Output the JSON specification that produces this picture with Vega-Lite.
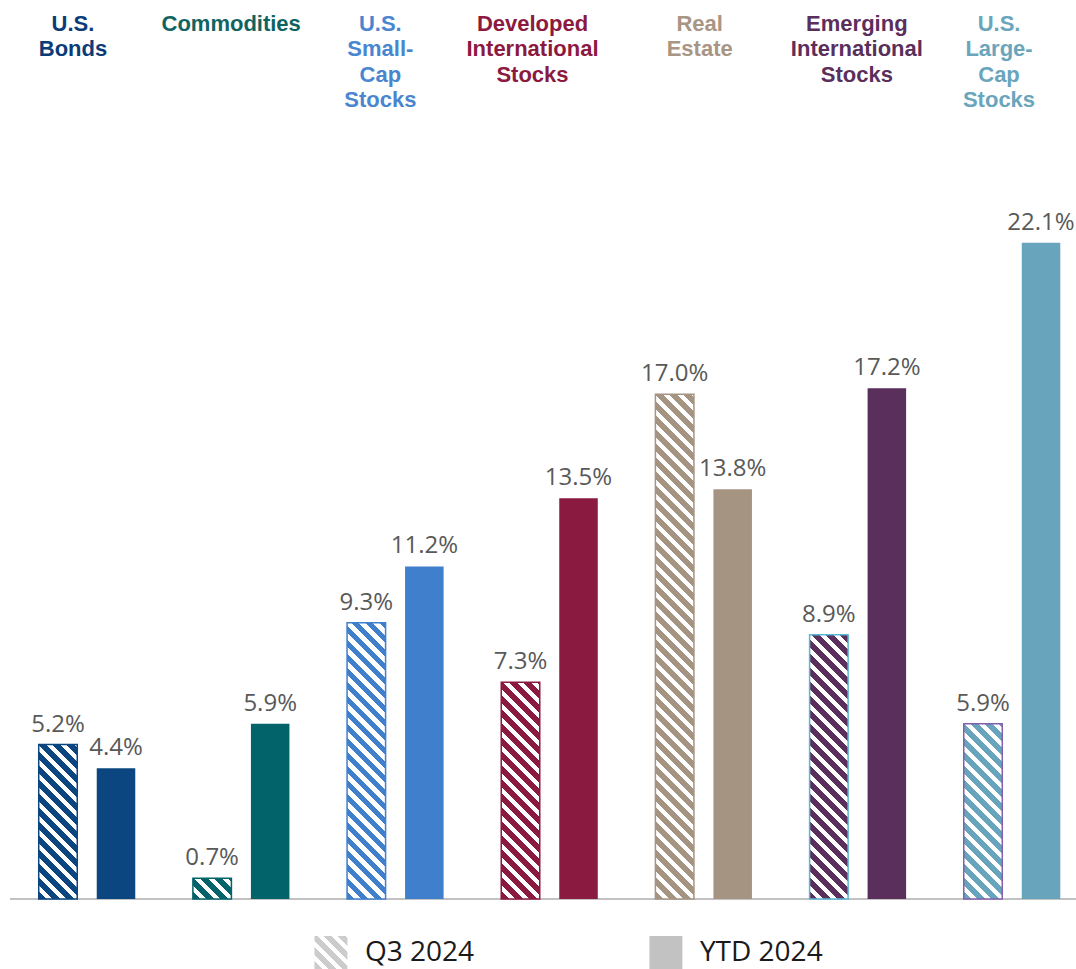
{
"$schema":"https://vega.github.io/schema/vega-lite/v6.json",
"padding":{"left":9,"top":12,"right":0,"bottom":0},
"background":"white",
"spacing":36,
"config":{"view":{"stroke":null},"font":"Open Sans"},
"vconcat":[
{"width":1067,"height":772,
"data":{"values":[
{"category":"U.S. Bonds","period":"Q3 2024","value":0.052},
{"category":"U.S. Bonds","period":"YTD 2024","value":0.044},
{"category":"Commodities","period":"Q3 2024","value":0.007},
{"category":"Commodities","period":"YTD 2024","value":0.059},
{"category":"U.S. Small-Cap Stocks","period":"Q3 2024","value":0.093},
{"category":"U.S. Small-Cap Stocks","period":"YTD 2024","value":0.112},
{"category":"Developed International Stocks","period":"Q3 2024","value":0.073},
{"category":"Developed International Stocks","period":"YTD 2024","value":0.135},
{"category":"Real Estate","period":"Q3 2024","value":0.170},
{"category":"Real Estate","period":"YTD 2024","value":0.138},
{"category":"Emerging International Stocks","period":"Q3 2024","value":0.089},
{"category":"Emerging International Stocks","period":"YTD 2024","value":0.172},
{"category":"U.S. Large-Cap Stocks","period":"Q3 2024","value":0.059},
{"category":"U.S. Large-Cap Stocks","period":"YTD 2024","value":0.221}
]},
"layer":[
{"mark":{"type":"rule","color":"#c2c2c2","strokeWidth":1.5},"encoding":{"y":{"datum":0,"type":"quantitative","scale":{"domain":[0,0.26],"nice":false},"axis":null}}},
{"transform":[{"filter":"datum.period === 'YTD 2024'"}],"mark":{"type":"bar"},
"encoding":{
"x":{"field":"category","type":"nominal","sort":["U.S. Bonds","Commodities","U.S. Small-Cap Stocks","Developed International Stocks","Real Estate","Emerging International Stocks","U.S. Large-Cap Stocks"],"scale":{"paddingInner":0.2,"paddingOuter":0.06045,"align":0.8224},
"axis":{"orient":"top","title":null,"domain":false,"ticks":false,"tickSize":0,"grid":false,"labelPadding":97,"labelBaseline":"alphabetic","labelAngle":0,"labelAlign":"center","labelFont":"Liberation Sans","labelFontSize":22,"labelFontWeight":"bold","labelLineHeight":25.5,"labelLimit":400,"labelOverlap":false,
"labelOffset":{"condition":[
{"test":"datum.value === 'U.S. Bonds'","value":-14},
{"test":"datum.value === 'Commodities'","value":-10},
{"test":"datum.value === 'U.S. Small-Cap Stocks'","value":-15},
{"test":"datum.value === 'Developed International Stocks'","value":-17},
{"test":"datum.value === 'Real Estate'","value":-4},
{"test":"datum.value === 'Emerging International Stocks'","value":-1}],"value":-13},
"labelColor":{"condition":[
{"test":"datum.value === 'U.S. Bonds'","value":"#0c3c78"},
{"test":"datum.value === 'Commodities'","value":"#0f6462"},
{"test":"datum.value === 'U.S. Small-Cap Stocks'","value":"#4a86d0"},
{"test":"datum.value === 'Developed International Stocks'","value":"#8c1a40"},
{"test":"datum.value === 'Real Estate'","value":"#a89584"},
{"test":"datum.value === 'Emerging International Stocks'","value":"#5a2f5c"}],"value":"#6aa5bc"},
"labelExpr":"datum.label === 'U.S. Bonds' ? ['U.S.','Bonds'] : datum.label === 'Commodities' ? 'Commodities' : datum.label === 'U.S. Small-Cap Stocks' ? ['U.S.','Small-','Cap','Stocks'] : datum.label === 'Developed International Stocks' ? ['Developed','International','Stocks'] : datum.label === 'Real Estate' ? ['Real','Estate'] : datum.label === 'Emerging International Stocks' ? ['Emerging','International','Stocks'] : ['U.S.','Large-','Cap','Stocks']"}},
"xOffset":{"field":"period","type":"nominal","scale":{"domain":["Q3 2024","YTD 2024"],"paddingInner":0.336,"paddingOuter":0.231}},
"y":{"field":"value","type":"quantitative","scale":{"domain":[0,0.26],"nice":false},"axis":null},
"color":{"field":"category","type":"nominal","scale":{"domain":["U.S. Bonds","Commodities","U.S. Small-Cap Stocks","Developed International Stocks","Real Estate","Emerging International Stocks","U.S. Large-Cap Stocks"],"range":["#0b4680","#02636a","#3f7fcc","#8a1a40","#a69483","#5a2f5c","#68a4bb"]},"legend":null}}},
{"transform":[{"filter":"datum.period === 'Q3 2024' && datum.category === 'U.S. Bonds'"}],
"mark":{"type":"bar","stroke":"#0b4680","strokeWidth":1.5,"fill":{"gradient":"linear","x1":0,"y1":1,"x2":0.8514,"y2":-2.4146,"stops":[
{"offset":0,"color":"#0b4680"},
{"offset":0.014,"color":"#0b4680"},{"offset":0.014,"color":"#fff"},{"offset":0.025,"color":"#fff"},{"offset":0.025,"color":"#0b4680"},
{"offset":0.039,"color":"#0b4680"},{"offset":0.039,"color":"#fff"},{"offset":0.05,"color":"#fff"},{"offset":0.05,"color":"#0b4680"},
{"offset":0.064,"color":"#0b4680"},{"offset":0.064,"color":"#fff"},{"offset":0.075,"color":"#fff"},{"offset":0.075,"color":"#0b4680"},
{"offset":0.089,"color":"#0b4680"},{"offset":0.089,"color":"#fff"},{"offset":0.1,"color":"#fff"},{"offset":0.1,"color":"#0b4680"},
{"offset":0.114,"color":"#0b4680"},{"offset":0.114,"color":"#fff"},{"offset":0.125,"color":"#fff"},{"offset":0.125,"color":"#0b4680"},
{"offset":0.139,"color":"#0b4680"},{"offset":0.139,"color":"#fff"},{"offset":0.15,"color":"#fff"},{"offset":0.15,"color":"#0b4680"},
{"offset":0.164,"color":"#0b4680"},{"offset":0.164,"color":"#fff"},{"offset":0.175,"color":"#fff"},{"offset":0.175,"color":"#0b4680"},
{"offset":0.189,"color":"#0b4680"},{"offset":0.189,"color":"#fff"},{"offset":0.2,"color":"#fff"},{"offset":0.2,"color":"#0b4680"},
{"offset":0.214,"color":"#0b4680"},{"offset":0.214,"color":"#fff"},{"offset":0.225,"color":"#fff"},{"offset":0.225,"color":"#0b4680"},
{"offset":0.239,"color":"#0b4680"},{"offset":0.239,"color":"#fff"},{"offset":0.25,"color":"#fff"},{"offset":0.25,"color":"#0b4680"},
{"offset":0.264,"color":"#0b4680"},{"offset":0.264,"color":"#fff"},{"offset":0.275,"color":"#fff"},{"offset":0.275,"color":"#0b4680"},
{"offset":0.289,"color":"#0b4680"},{"offset":0.289,"color":"#fff"},{"offset":0.3,"color":"#fff"},{"offset":0.3,"color":"#0b4680"},
{"offset":0.314,"color":"#0b4680"},{"offset":0.314,"color":"#fff"},{"offset":0.325,"color":"#fff"},{"offset":0.325,"color":"#0b4680"},
{"offset":0.339,"color":"#0b4680"},{"offset":0.339,"color":"#fff"},{"offset":0.35,"color":"#fff"},{"offset":0.35,"color":"#0b4680"}
]}},
"encoding":{"x":{"field":"category","type":"nominal","sort":["U.S. Bonds","Commodities","U.S. Small-Cap Stocks","Developed International Stocks","Real Estate","Emerging International Stocks","U.S. Large-Cap Stocks"],"scale":{"paddingInner":0.2,"paddingOuter":0.06045,"align":0.8224}},
"xOffset":{"field":"period","type":"nominal","scale":{"domain":["Q3 2024","YTD 2024"],"paddingInner":0.336,"paddingOuter":0.231}},
"y":{"field":"value","type":"quantitative","scale":{"domain":[0,0.26],"nice":false},"axis":null}}},
{"transform":[{"filter":"datum.period === 'Q3 2024' && datum.category === 'Commodities'"}],
"mark":{"type":"bar","stroke":"#02636a","strokeWidth":1.5,"fill":{"gradient":"linear","x1":0,"y1":1,"x2":11.264,"y2":-5.0797,"stops":[
{"offset":0,"color":"#02636a"},
{"offset":0.014,"color":"#02636a"},{"offset":0.014,"color":"#fff"},{"offset":0.025,"color":"#fff"},{"offset":0.025,"color":"#02636a"},
{"offset":0.039,"color":"#02636a"},{"offset":0.039,"color":"#fff"},{"offset":0.05,"color":"#fff"},{"offset":0.05,"color":"#02636a"},
{"offset":0.064,"color":"#02636a"},{"offset":0.064,"color":"#fff"},{"offset":0.075,"color":"#fff"},{"offset":0.075,"color":"#02636a"},
{"offset":0.089,"color":"#02636a"},{"offset":0.089,"color":"#fff"},{"offset":0.1,"color":"#fff"},{"offset":0.1,"color":"#02636a"},
{"offset":0.114,"color":"#02636a"},{"offset":0.114,"color":"#fff"}
]}},
"encoding":{"x":{"field":"category","type":"nominal","sort":["U.S. Bonds","Commodities","U.S. Small-Cap Stocks","Developed International Stocks","Real Estate","Emerging International Stocks","U.S. Large-Cap Stocks"],"scale":{"paddingInner":0.2,"paddingOuter":0.06045,"align":0.8224}},
"xOffset":{"field":"period","type":"nominal","scale":{"domain":["Q3 2024","YTD 2024"],"paddingInner":0.336,"paddingOuter":0.231}},
"y":{"field":"value","type":"quantitative","scale":{"domain":[0,0.26],"nice":false},"axis":null}}},
{"transform":[{"filter":"datum.period === 'Q3 2024' && datum.category === 'U.S. Small-Cap Stocks'"}],
"mark":{"type":"bar","stroke":"#3f7fcc","strokeWidth":1.5,"fill":{"gradient":"linear","x1":0,"y1":1,"x2":0.2774,"y2":-0.9893,"stops":[
{"offset":0,"color":"#3f7fcc"},
{"offset":0.014,"color":"#3f7fcc"},{"offset":0.014,"color":"#fff"},{"offset":0.025,"color":"#fff"},{"offset":0.025,"color":"#3f7fcc"},
{"offset":0.039,"color":"#3f7fcc"},{"offset":0.039,"color":"#fff"},{"offset":0.05,"color":"#fff"},{"offset":0.05,"color":"#3f7fcc"},
{"offset":0.064,"color":"#3f7fcc"},{"offset":0.064,"color":"#fff"},{"offset":0.075,"color":"#fff"},{"offset":0.075,"color":"#3f7fcc"},
{"offset":0.089,"color":"#3f7fcc"},{"offset":0.089,"color":"#fff"},{"offset":0.1,"color":"#fff"},{"offset":0.1,"color":"#3f7fcc"},
{"offset":0.114,"color":"#3f7fcc"},{"offset":0.114,"color":"#fff"},{"offset":0.125,"color":"#fff"},{"offset":0.125,"color":"#3f7fcc"},
{"offset":0.139,"color":"#3f7fcc"},{"offset":0.139,"color":"#fff"},{"offset":0.15,"color":"#fff"},{"offset":0.15,"color":"#3f7fcc"},
{"offset":0.164,"color":"#3f7fcc"},{"offset":0.164,"color":"#fff"},{"offset":0.175,"color":"#fff"},{"offset":0.175,"color":"#3f7fcc"},
{"offset":0.189,"color":"#3f7fcc"},{"offset":0.189,"color":"#fff"},{"offset":0.2,"color":"#fff"},{"offset":0.2,"color":"#3f7fcc"},
{"offset":0.214,"color":"#3f7fcc"},{"offset":0.214,"color":"#fff"},{"offset":0.225,"color":"#fff"},{"offset":0.225,"color":"#3f7fcc"},
{"offset":0.239,"color":"#3f7fcc"},{"offset":0.239,"color":"#fff"},{"offset":0.25,"color":"#fff"},{"offset":0.25,"color":"#3f7fcc"},
{"offset":0.264,"color":"#3f7fcc"},{"offset":0.264,"color":"#fff"},{"offset":0.275,"color":"#fff"},{"offset":0.275,"color":"#3f7fcc"},
{"offset":0.289,"color":"#3f7fcc"},{"offset":0.289,"color":"#fff"},{"offset":0.3,"color":"#fff"},{"offset":0.3,"color":"#3f7fcc"},
{"offset":0.314,"color":"#3f7fcc"},{"offset":0.314,"color":"#fff"},{"offset":0.325,"color":"#fff"},{"offset":0.325,"color":"#3f7fcc"},
{"offset":0.339,"color":"#3f7fcc"},{"offset":0.339,"color":"#fff"},{"offset":0.35,"color":"#fff"},{"offset":0.35,"color":"#3f7fcc"},
{"offset":0.364,"color":"#3f7fcc"},{"offset":0.364,"color":"#fff"},{"offset":0.375,"color":"#fff"},{"offset":0.375,"color":"#3f7fcc"},
{"offset":0.389,"color":"#3f7fcc"},{"offset":0.389,"color":"#fff"},{"offset":0.4,"color":"#fff"},{"offset":0.4,"color":"#3f7fcc"},
{"offset":0.414,"color":"#3f7fcc"},{"offset":0.414,"color":"#fff"},{"offset":0.425,"color":"#fff"},{"offset":0.425,"color":"#3f7fcc"},
{"offset":0.439,"color":"#3f7fcc"},{"offset":0.439,"color":"#fff"},{"offset":0.45,"color":"#fff"},{"offset":0.45,"color":"#3f7fcc"},
{"offset":0.464,"color":"#3f7fcc"},{"offset":0.464,"color":"#fff"},{"offset":0.475,"color":"#fff"},{"offset":0.475,"color":"#3f7fcc"},
{"offset":0.489,"color":"#3f7fcc"},{"offset":0.489,"color":"#fff"},{"offset":0.5,"color":"#fff"},{"offset":0.5,"color":"#3f7fcc"},
{"offset":0.514,"color":"#3f7fcc"},{"offset":0.514,"color":"#fff"},{"offset":0.525,"color":"#fff"},{"offset":0.525,"color":"#3f7fcc"},
{"offset":0.539,"color":"#3f7fcc"},{"offset":0.539,"color":"#fff"},{"offset":0.55,"color":"#fff"},{"offset":0.55,"color":"#3f7fcc"}
]}},
"encoding":{"x":{"field":"category","type":"nominal","sort":["U.S. Bonds","Commodities","U.S. Small-Cap Stocks","Developed International Stocks","Real Estate","Emerging International Stocks","U.S. Large-Cap Stocks"],"scale":{"paddingInner":0.2,"paddingOuter":0.06045,"align":0.8224}},
"xOffset":{"field":"period","type":"nominal","scale":{"domain":["Q3 2024","YTD 2024"],"paddingInner":0.336,"paddingOuter":0.231}},
"y":{"field":"value","type":"quantitative","scale":{"domain":[0,0.26],"nice":false},"axis":null}}},
{"transform":[{"filter":"datum.period === 'Q3 2024' && datum.category === 'Developed International Stocks'"}],
"mark":{"type":"bar","stroke":"#8a1a40","strokeWidth":1.5,"fill":{"gradient":"linear","x1":0,"y1":1,"x2":0.4449,"y2":-1.5046,"stops":[
{"offset":0,"color":"#8a1a40"},
{"offset":0.014,"color":"#8a1a40"},{"offset":0.014,"color":"#fff"},{"offset":0.025,"color":"#fff"},{"offset":0.025,"color":"#8a1a40"},
{"offset":0.039,"color":"#8a1a40"},{"offset":0.039,"color":"#fff"},{"offset":0.05,"color":"#fff"},{"offset":0.05,"color":"#8a1a40"},
{"offset":0.064,"color":"#8a1a40"},{"offset":0.064,"color":"#fff"},{"offset":0.075,"color":"#fff"},{"offset":0.075,"color":"#8a1a40"},
{"offset":0.089,"color":"#8a1a40"},{"offset":0.089,"color":"#fff"},{"offset":0.1,"color":"#fff"},{"offset":0.1,"color":"#8a1a40"},
{"offset":0.114,"color":"#8a1a40"},{"offset":0.114,"color":"#fff"},{"offset":0.125,"color":"#fff"},{"offset":0.125,"color":"#8a1a40"},
{"offset":0.139,"color":"#8a1a40"},{"offset":0.139,"color":"#fff"},{"offset":0.15,"color":"#fff"},{"offset":0.15,"color":"#8a1a40"},
{"offset":0.164,"color":"#8a1a40"},{"offset":0.164,"color":"#fff"},{"offset":0.175,"color":"#fff"},{"offset":0.175,"color":"#8a1a40"},
{"offset":0.189,"color":"#8a1a40"},{"offset":0.189,"color":"#fff"},{"offset":0.2,"color":"#fff"},{"offset":0.2,"color":"#8a1a40"},
{"offset":0.214,"color":"#8a1a40"},{"offset":0.214,"color":"#fff"},{"offset":0.225,"color":"#fff"},{"offset":0.225,"color":"#8a1a40"},
{"offset":0.239,"color":"#8a1a40"},{"offset":0.239,"color":"#fff"},{"offset":0.25,"color":"#fff"},{"offset":0.25,"color":"#8a1a40"},
{"offset":0.264,"color":"#8a1a40"},{"offset":0.264,"color":"#fff"},{"offset":0.275,"color":"#fff"},{"offset":0.275,"color":"#8a1a40"},
{"offset":0.289,"color":"#8a1a40"},{"offset":0.289,"color":"#fff"},{"offset":0.3,"color":"#fff"},{"offset":0.3,"color":"#8a1a40"},
{"offset":0.314,"color":"#8a1a40"},{"offset":0.314,"color":"#fff"},{"offset":0.325,"color":"#fff"},{"offset":0.325,"color":"#8a1a40"},
{"offset":0.339,"color":"#8a1a40"},{"offset":0.339,"color":"#fff"},{"offset":0.35,"color":"#fff"},{"offset":0.35,"color":"#8a1a40"},
{"offset":0.364,"color":"#8a1a40"},{"offset":0.364,"color":"#fff"},{"offset":0.375,"color":"#fff"},{"offset":0.375,"color":"#8a1a40"},
{"offset":0.389,"color":"#8a1a40"},{"offset":0.389,"color":"#fff"},{"offset":0.4,"color":"#fff"},{"offset":0.4,"color":"#8a1a40"},
{"offset":0.414,"color":"#8a1a40"},{"offset":0.414,"color":"#fff"},{"offset":0.425,"color":"#fff"},{"offset":0.425,"color":"#8a1a40"},
{"offset":0.439,"color":"#8a1a40"},{"offset":0.439,"color":"#fff"},{"offset":0.45,"color":"#fff"},{"offset":0.45,"color":"#8a1a40"}
]}},
"encoding":{"x":{"field":"category","type":"nominal","sort":["U.S. Bonds","Commodities","U.S. Small-Cap Stocks","Developed International Stocks","Real Estate","Emerging International Stocks","U.S. Large-Cap Stocks"],"scale":{"paddingInner":0.2,"paddingOuter":0.06045,"align":0.8224}},
"xOffset":{"field":"period","type":"nominal","scale":{"domain":["Q3 2024","YTD 2024"],"paddingInner":0.336,"paddingOuter":0.231}},
"y":{"field":"value","type":"quantitative","scale":{"domain":[0,0.26],"nice":false},"axis":null}}},
{"transform":[{"filter":"datum.period === 'Q3 2024' && datum.category === 'Real Estate'"}],
"mark":{"type":"bar","stroke":"#a69483","strokeWidth":1.5,"fill":{"gradient":"linear","x1":0,"y1":1,"x2":0.0841,"y2":-0.103,"stops":[
{"offset":0,"color":"#a69483"},
{"offset":0.014,"color":"#a69483"},{"offset":0.014,"color":"#fff"},{"offset":0.025,"color":"#fff"},{"offset":0.025,"color":"#a69483"},
{"offset":0.039,"color":"#a69483"},{"offset":0.039,"color":"#fff"},{"offset":0.05,"color":"#fff"},{"offset":0.05,"color":"#a69483"},
{"offset":0.064,"color":"#a69483"},{"offset":0.064,"color":"#fff"},{"offset":0.075,"color":"#fff"},{"offset":0.075,"color":"#a69483"},
{"offset":0.089,"color":"#a69483"},{"offset":0.089,"color":"#fff"},{"offset":0.1,"color":"#fff"},{"offset":0.1,"color":"#a69483"},
{"offset":0.114,"color":"#a69483"},{"offset":0.114,"color":"#fff"},{"offset":0.125,"color":"#fff"},{"offset":0.125,"color":"#a69483"},
{"offset":0.139,"color":"#a69483"},{"offset":0.139,"color":"#fff"},{"offset":0.15,"color":"#fff"},{"offset":0.15,"color":"#a69483"},
{"offset":0.164,"color":"#a69483"},{"offset":0.164,"color":"#fff"},{"offset":0.175,"color":"#fff"},{"offset":0.175,"color":"#a69483"},
{"offset":0.189,"color":"#a69483"},{"offset":0.189,"color":"#fff"},{"offset":0.2,"color":"#fff"},{"offset":0.2,"color":"#a69483"},
{"offset":0.214,"color":"#a69483"},{"offset":0.214,"color":"#fff"},{"offset":0.225,"color":"#fff"},{"offset":0.225,"color":"#a69483"},
{"offset":0.239,"color":"#a69483"},{"offset":0.239,"color":"#fff"},{"offset":0.25,"color":"#fff"},{"offset":0.25,"color":"#a69483"},
{"offset":0.264,"color":"#a69483"},{"offset":0.264,"color":"#fff"},{"offset":0.275,"color":"#fff"},{"offset":0.275,"color":"#a69483"},
{"offset":0.289,"color":"#a69483"},{"offset":0.289,"color":"#fff"},{"offset":0.3,"color":"#fff"},{"offset":0.3,"color":"#a69483"},
{"offset":0.314,"color":"#a69483"},{"offset":0.314,"color":"#fff"},{"offset":0.325,"color":"#fff"},{"offset":0.325,"color":"#a69483"},
{"offset":0.339,"color":"#a69483"},{"offset":0.339,"color":"#fff"},{"offset":0.35,"color":"#fff"},{"offset":0.35,"color":"#a69483"},
{"offset":0.364,"color":"#a69483"},{"offset":0.364,"color":"#fff"},{"offset":0.375,"color":"#fff"},{"offset":0.375,"color":"#a69483"},
{"offset":0.389,"color":"#a69483"},{"offset":0.389,"color":"#fff"},{"offset":0.4,"color":"#fff"},{"offset":0.4,"color":"#a69483"},
{"offset":0.414,"color":"#a69483"},{"offset":0.414,"color":"#fff"},{"offset":0.425,"color":"#fff"},{"offset":0.425,"color":"#a69483"},
{"offset":0.439,"color":"#a69483"},{"offset":0.439,"color":"#fff"},{"offset":0.45,"color":"#fff"},{"offset":0.45,"color":"#a69483"},
{"offset":0.464,"color":"#a69483"},{"offset":0.464,"color":"#fff"},{"offset":0.475,"color":"#fff"},{"offset":0.475,"color":"#a69483"},
{"offset":0.489,"color":"#a69483"},{"offset":0.489,"color":"#fff"},{"offset":0.5,"color":"#fff"},{"offset":0.5,"color":"#a69483"},
{"offset":0.514,"color":"#a69483"},{"offset":0.514,"color":"#fff"},{"offset":0.525,"color":"#fff"},{"offset":0.525,"color":"#a69483"},
{"offset":0.539,"color":"#a69483"},{"offset":0.539,"color":"#fff"},{"offset":0.55,"color":"#fff"},{"offset":0.55,"color":"#a69483"},
{"offset":0.564,"color":"#a69483"},{"offset":0.564,"color":"#fff"},{"offset":0.575,"color":"#fff"},{"offset":0.575,"color":"#a69483"},
{"offset":0.589,"color":"#a69483"},{"offset":0.589,"color":"#fff"},{"offset":0.6,"color":"#fff"},{"offset":0.6,"color":"#a69483"},
{"offset":0.614,"color":"#a69483"},{"offset":0.614,"color":"#fff"},{"offset":0.625,"color":"#fff"},{"offset":0.625,"color":"#a69483"},
{"offset":0.639,"color":"#a69483"},{"offset":0.639,"color":"#fff"},{"offset":0.65,"color":"#fff"},{"offset":0.65,"color":"#a69483"},
{"offset":0.664,"color":"#a69483"},{"offset":0.664,"color":"#fff"},{"offset":0.675,"color":"#fff"},{"offset":0.675,"color":"#a69483"},
{"offset":0.689,"color":"#a69483"},{"offset":0.689,"color":"#fff"},{"offset":0.7,"color":"#fff"},{"offset":0.7,"color":"#a69483"},
{"offset":0.714,"color":"#a69483"},{"offset":0.714,"color":"#fff"},{"offset":0.725,"color":"#fff"},{"offset":0.725,"color":"#a69483"},
{"offset":0.739,"color":"#a69483"},{"offset":0.739,"color":"#fff"},{"offset":0.75,"color":"#fff"},{"offset":0.75,"color":"#a69483"},
{"offset":0.764,"color":"#a69483"},{"offset":0.764,"color":"#fff"},{"offset":0.775,"color":"#fff"},{"offset":0.775,"color":"#a69483"},
{"offset":0.789,"color":"#a69483"},{"offset":0.789,"color":"#fff"},{"offset":0.8,"color":"#fff"},{"offset":0.8,"color":"#a69483"},
{"offset":0.814,"color":"#a69483"},{"offset":0.814,"color":"#fff"},{"offset":0.825,"color":"#fff"},{"offset":0.825,"color":"#a69483"},
{"offset":0.839,"color":"#a69483"},{"offset":0.839,"color":"#fff"},{"offset":0.85,"color":"#fff"},{"offset":0.85,"color":"#a69483"},
{"offset":0.864,"color":"#a69483"},{"offset":0.864,"color":"#fff"},{"offset":0.875,"color":"#fff"},{"offset":0.875,"color":"#a69483"},
{"offset":0.889,"color":"#a69483"},{"offset":0.889,"color":"#fff"},{"offset":0.9,"color":"#fff"},{"offset":0.9,"color":"#a69483"},
{"offset":0.914,"color":"#a69483"},{"offset":0.914,"color":"#fff"},{"offset":0.925,"color":"#fff"},{"offset":0.925,"color":"#a69483"},
{"offset":0.939,"color":"#a69483"},{"offset":0.939,"color":"#fff"},{"offset":0.95,"color":"#fff"},{"offset":0.95,"color":"#a69483"},
{"offset":0.964,"color":"#a69483"},{"offset":0.964,"color":"#fff"},{"offset":0.975,"color":"#fff"},{"offset":0.975,"color":"#a69483"}
]}},
"encoding":{"x":{"field":"category","type":"nominal","sort":["U.S. Bonds","Commodities","U.S. Small-Cap Stocks","Developed International Stocks","Real Estate","Emerging International Stocks","U.S. Large-Cap Stocks"],"scale":{"paddingInner":0.2,"paddingOuter":0.06045,"align":0.8224}},
"xOffset":{"field":"period","type":"nominal","scale":{"domain":["Q3 2024","YTD 2024"],"paddingInner":0.336,"paddingOuter":0.231}},
"y":{"field":"value","type":"quantitative","scale":{"domain":[0,0.26],"nice":false},"axis":null}}},
{"transform":[{"filter":"datum.period === 'Q3 2024' && datum.category === 'Emerging International Stocks'"}],
"mark":{"type":"bar","stroke":"#5bb8d4","strokeWidth":1.5,"fill":{"gradient":"linear","x1":0,"y1":1,"x2":0.3023,"y2":-1.0751,"stops":[
{"offset":0,"color":"#5a2f5c"},
{"offset":0.014,"color":"#5a2f5c"},{"offset":0.014,"color":"#fff"},{"offset":0.025,"color":"#fff"},{"offset":0.025,"color":"#5a2f5c"},
{"offset":0.039,"color":"#5a2f5c"},{"offset":0.039,"color":"#fff"},{"offset":0.05,"color":"#fff"},{"offset":0.05,"color":"#5a2f5c"},
{"offset":0.064,"color":"#5a2f5c"},{"offset":0.064,"color":"#fff"},{"offset":0.075,"color":"#fff"},{"offset":0.075,"color":"#5a2f5c"},
{"offset":0.089,"color":"#5a2f5c"},{"offset":0.089,"color":"#fff"},{"offset":0.1,"color":"#fff"},{"offset":0.1,"color":"#5a2f5c"},
{"offset":0.114,"color":"#5a2f5c"},{"offset":0.114,"color":"#fff"},{"offset":0.125,"color":"#fff"},{"offset":0.125,"color":"#5a2f5c"},
{"offset":0.139,"color":"#5a2f5c"},{"offset":0.139,"color":"#fff"},{"offset":0.15,"color":"#fff"},{"offset":0.15,"color":"#5a2f5c"},
{"offset":0.164,"color":"#5a2f5c"},{"offset":0.164,"color":"#fff"},{"offset":0.175,"color":"#fff"},{"offset":0.175,"color":"#5a2f5c"},
{"offset":0.189,"color":"#5a2f5c"},{"offset":0.189,"color":"#fff"},{"offset":0.2,"color":"#fff"},{"offset":0.2,"color":"#5a2f5c"},
{"offset":0.214,"color":"#5a2f5c"},{"offset":0.214,"color":"#fff"},{"offset":0.225,"color":"#fff"},{"offset":0.225,"color":"#5a2f5c"},
{"offset":0.239,"color":"#5a2f5c"},{"offset":0.239,"color":"#fff"},{"offset":0.25,"color":"#fff"},{"offset":0.25,"color":"#5a2f5c"},
{"offset":0.264,"color":"#5a2f5c"},{"offset":0.264,"color":"#fff"},{"offset":0.275,"color":"#fff"},{"offset":0.275,"color":"#5a2f5c"},
{"offset":0.289,"color":"#5a2f5c"},{"offset":0.289,"color":"#fff"},{"offset":0.3,"color":"#fff"},{"offset":0.3,"color":"#5a2f5c"},
{"offset":0.314,"color":"#5a2f5c"},{"offset":0.314,"color":"#fff"},{"offset":0.325,"color":"#fff"},{"offset":0.325,"color":"#5a2f5c"},
{"offset":0.339,"color":"#5a2f5c"},{"offset":0.339,"color":"#fff"},{"offset":0.35,"color":"#fff"},{"offset":0.35,"color":"#5a2f5c"},
{"offset":0.364,"color":"#5a2f5c"},{"offset":0.364,"color":"#fff"},{"offset":0.375,"color":"#fff"},{"offset":0.375,"color":"#5a2f5c"},
{"offset":0.389,"color":"#5a2f5c"},{"offset":0.389,"color":"#fff"},{"offset":0.4,"color":"#fff"},{"offset":0.4,"color":"#5a2f5c"},
{"offset":0.414,"color":"#5a2f5c"},{"offset":0.414,"color":"#fff"},{"offset":0.425,"color":"#fff"},{"offset":0.425,"color":"#5a2f5c"},
{"offset":0.439,"color":"#5a2f5c"},{"offset":0.439,"color":"#fff"},{"offset":0.45,"color":"#fff"},{"offset":0.45,"color":"#5a2f5c"},
{"offset":0.464,"color":"#5a2f5c"},{"offset":0.464,"color":"#fff"},{"offset":0.475,"color":"#fff"},{"offset":0.475,"color":"#5a2f5c"},
{"offset":0.489,"color":"#5a2f5c"},{"offset":0.489,"color":"#fff"},{"offset":0.5,"color":"#fff"},{"offset":0.5,"color":"#5a2f5c"},
{"offset":0.514,"color":"#5a2f5c"},{"offset":0.514,"color":"#fff"},{"offset":0.525,"color":"#fff"},{"offset":0.525,"color":"#5a2f5c"},
{"offset":0.539,"color":"#5a2f5c"},{"offset":0.539,"color":"#fff"},{"offset":0.55,"color":"#fff"},{"offset":0.55,"color":"#5a2f5c"}
]}},
"encoding":{"x":{"field":"category","type":"nominal","sort":["U.S. Bonds","Commodities","U.S. Small-Cap Stocks","Developed International Stocks","Real Estate","Emerging International Stocks","U.S. Large-Cap Stocks"],"scale":{"paddingInner":0.2,"paddingOuter":0.06045,"align":0.8224}},
"xOffset":{"field":"period","type":"nominal","scale":{"domain":["Q3 2024","YTD 2024"],"paddingInner":0.336,"paddingOuter":0.231}},
"y":{"field":"value","type":"quantitative","scale":{"domain":[0,0.26],"nice":false},"axis":null}}},
{"transform":[{"filter":"datum.period === 'Q3 2024' && datum.category === 'U.S. Large-Cap Stocks'"}],
"mark":{"type":"bar","stroke":"#8260ac","strokeWidth":1.5,"fill":{"gradient":"linear","x1":0,"y1":1,"x2":0.6702,"y2":-2.0494,"stops":[
{"offset":0,"color":"#68a4bb"},
{"offset":0.014,"color":"#68a4bb"},{"offset":0.014,"color":"#fff"},{"offset":0.025,"color":"#fff"},{"offset":0.025,"color":"#68a4bb"},
{"offset":0.039,"color":"#68a4bb"},{"offset":0.039,"color":"#fff"},{"offset":0.05,"color":"#fff"},{"offset":0.05,"color":"#68a4bb"},
{"offset":0.064,"color":"#68a4bb"},{"offset":0.064,"color":"#fff"},{"offset":0.075,"color":"#fff"},{"offset":0.075,"color":"#68a4bb"},
{"offset":0.089,"color":"#68a4bb"},{"offset":0.089,"color":"#fff"},{"offset":0.1,"color":"#fff"},{"offset":0.1,"color":"#68a4bb"},
{"offset":0.114,"color":"#68a4bb"},{"offset":0.114,"color":"#fff"},{"offset":0.125,"color":"#fff"},{"offset":0.125,"color":"#68a4bb"},
{"offset":0.139,"color":"#68a4bb"},{"offset":0.139,"color":"#fff"},{"offset":0.15,"color":"#fff"},{"offset":0.15,"color":"#68a4bb"},
{"offset":0.164,"color":"#68a4bb"},{"offset":0.164,"color":"#fff"},{"offset":0.175,"color":"#fff"},{"offset":0.175,"color":"#68a4bb"},
{"offset":0.189,"color":"#68a4bb"},{"offset":0.189,"color":"#fff"},{"offset":0.2,"color":"#fff"},{"offset":0.2,"color":"#68a4bb"},
{"offset":0.214,"color":"#68a4bb"},{"offset":0.214,"color":"#fff"},{"offset":0.225,"color":"#fff"},{"offset":0.225,"color":"#68a4bb"},
{"offset":0.239,"color":"#68a4bb"},{"offset":0.239,"color":"#fff"},{"offset":0.25,"color":"#fff"},{"offset":0.25,"color":"#68a4bb"},
{"offset":0.264,"color":"#68a4bb"},{"offset":0.264,"color":"#fff"},{"offset":0.275,"color":"#fff"},{"offset":0.275,"color":"#68a4bb"},
{"offset":0.289,"color":"#68a4bb"},{"offset":0.289,"color":"#fff"},{"offset":0.3,"color":"#fff"},{"offset":0.3,"color":"#68a4bb"},
{"offset":0.314,"color":"#68a4bb"},{"offset":0.314,"color":"#fff"},{"offset":0.325,"color":"#fff"},{"offset":0.325,"color":"#68a4bb"},
{"offset":0.339,"color":"#68a4bb"},{"offset":0.339,"color":"#fff"},{"offset":0.35,"color":"#fff"},{"offset":0.35,"color":"#68a4bb"},
{"offset":0.364,"color":"#68a4bb"},{"offset":0.364,"color":"#fff"},{"offset":0.375,"color":"#fff"},{"offset":0.375,"color":"#68a4bb"}
]}},
"encoding":{"x":{"field":"category","type":"nominal","sort":["U.S. Bonds","Commodities","U.S. Small-Cap Stocks","Developed International Stocks","Real Estate","Emerging International Stocks","U.S. Large-Cap Stocks"],"scale":{"paddingInner":0.2,"paddingOuter":0.06045,"align":0.8224}},
"xOffset":{"field":"period","type":"nominal","scale":{"domain":["Q3 2024","YTD 2024"],"paddingInner":0.336,"paddingOuter":0.231}},
"y":{"field":"value","type":"quantitative","scale":{"domain":[0,0.26],"nice":false},"axis":null}}},
{"mark":{"type":"text","baseline":"alphabetic","dy":-13,"fontSize":24,"font":"Open Sans","color":"#595959"},
"encoding":{"x":{"field":"category","type":"nominal","sort":["U.S. Bonds","Commodities","U.S. Small-Cap Stocks","Developed International Stocks","Real Estate","Emerging International Stocks","U.S. Large-Cap Stocks"],"scale":{"paddingInner":0.2,"paddingOuter":0.06045,"align":0.8224}},
"xOffset":{"field":"period","type":"nominal","scale":{"domain":["Q3 2024","YTD 2024"],"paddingInner":0.336,"paddingOuter":0.231}},
"y":{"field":"value","type":"quantitative","scale":{"domain":[0,0.26],"nice":false},"axis":null},
"text":{"field":"value","type":"quantitative","format":".1%"}}}
]},
{"width":1005,"height":33,
"data":{"values":[{"period":"Q3 2024"},{"period":"YTD 2024"}]},
"layer":[
{"transform":[{"filter":"datum.period === 'Q3 2024'"}],
"mark":{"type":"square","size":1089,"opacity":1,"strokeWidth":0,"fill":{"gradient":"linear","x1":0,"y1":1,"x2":1.0606,"y2":-0.0606,"stops":[
{"offset":0,"color":"#cccccc"},
{"offset":0.112,"color":"#cccccc"},{"offset":0.112,"color":"#fff"},{"offset":0.2,"color":"#fff"},{"offset":0.2,"color":"#cccccc"},
{"offset":0.312,"color":"#cccccc"},{"offset":0.312,"color":"#fff"},{"offset":0.4,"color":"#fff"},{"offset":0.4,"color":"#cccccc"},
{"offset":0.512,"color":"#cccccc"},{"offset":0.512,"color":"#fff"},{"offset":0.6,"color":"#fff"},{"offset":0.6,"color":"#cccccc"},
{"offset":0.712,"color":"#cccccc"},{"offset":0.712,"color":"#fff"},{"offset":0.8,"color":"#fff"},{"offset":0.8,"color":"#cccccc"},
{"offset":0.912,"color":"#cccccc"},{"offset":0.912,"color":"#fff"}
]}},
"encoding":{"x":{"field":"period","type":"nominal","scale":{"type":"point","padding":1,"align":0.479},"axis":null}}},
{"transform":[{"filter":"datum.period === 'YTD 2024'"}],
"mark":{"type":"square","size":1089,"opacity":1,"strokeWidth":0,"color":"#c2c2c2"},
"encoding":{"x":{"field":"period","type":"nominal","scale":{"type":"point","padding":1,"align":0.479},"axis":null}}},
{"mark":{"type":"text","align":"left","baseline":"middle","dx":34,"fontSize":28,"font":"Open Sans","color":"#1a1a1a"},
"encoding":{"x":{"field":"period","type":"nominal","scale":{"type":"point","padding":1,"align":0.479},"axis":null},"text":{"field":"period","type":"nominal"}}}
]}
]
}
